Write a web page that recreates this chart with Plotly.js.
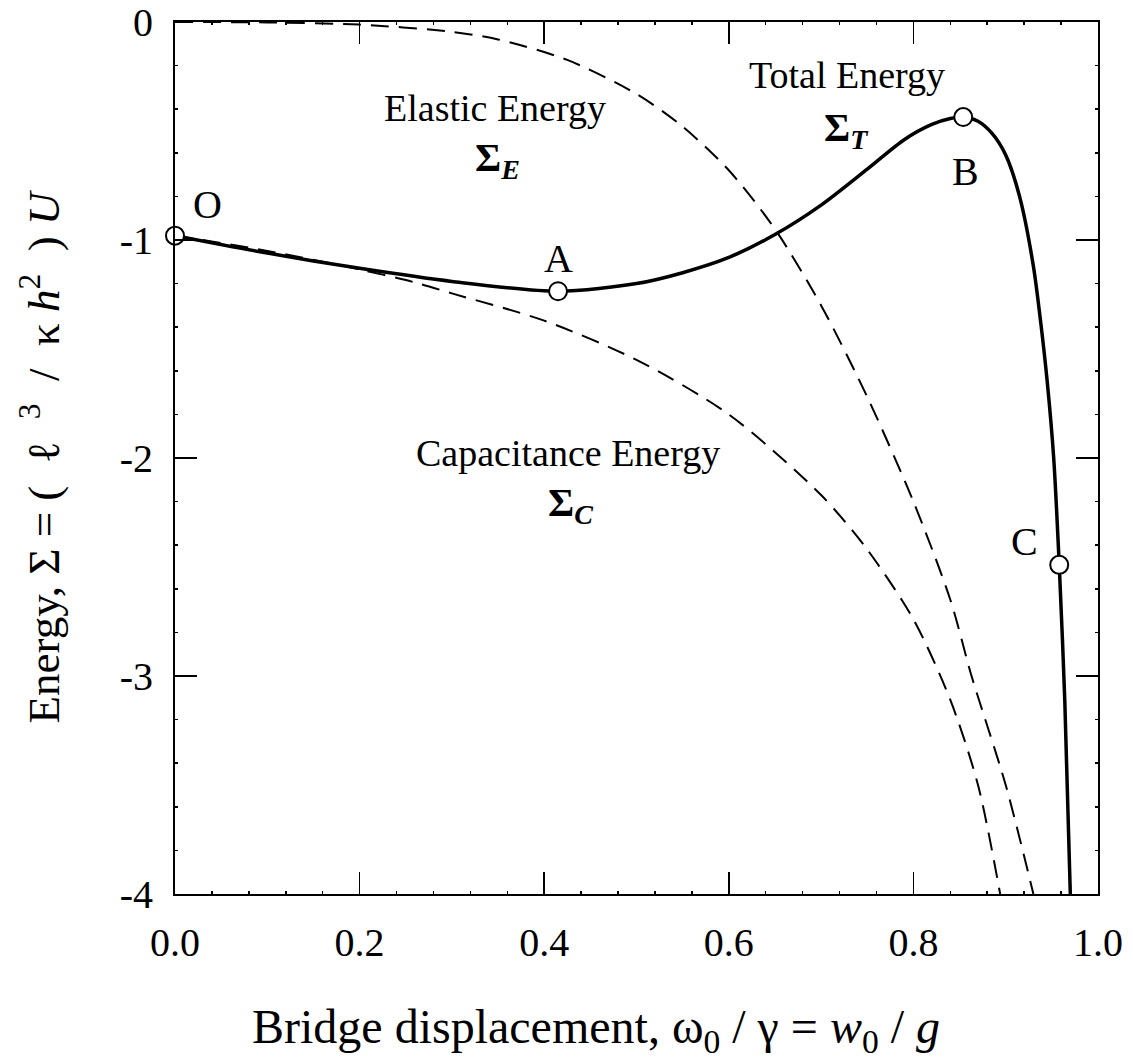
<!DOCTYPE html>
<html>
<head>
<meta charset="utf-8">
<script src="https://cdn.plot.ly/plotly-3.0.1.min.js"></script>
<style>
  html, body { margin: 0; padding: 0; background: #fff; }
  #chart { width: 1133px; height: 1063px; }
</style>
</head>
<body>
<div id="chart"></div>
<script>
// Elastic energy (dashed)
const elasticX = [0.0, 0.1, 0.2, 0.3, 0.35, 0.425, 0.5, 0.55, 0.6, 0.65, 0.7, 0.75, 0.8, 0.84, 0.863, 0.9, 0.93];
const elasticY = [0.0, -0.002, -0.012, -0.045, -0.08, -0.174, -0.33, -0.48, -0.68, -0.95, -1.3, -1.72, -2.2, -2.65, -3.0, -3.5, -4.0];

// Capacitance energy (dashed)
const capX = [0.0, 0.1, 0.2, 0.26, 0.3, 0.4, 0.5, 0.6, 0.7, 0.75, 0.8, 0.84, 0.87, 0.894];
const capY = [-0.98, -1.05, -1.135, -1.195, -1.245, -1.37, -1.55, -1.8, -2.17, -2.42, -2.74, -3.11, -3.5, -4.0];

// Total energy (solid)
const totalX = [0.0, 0.1, 0.2, 0.3, 0.415, 0.5, 0.55, 0.6, 0.65, 0.7, 0.75, 0.79, 0.82, 0.84, 0.854, 0.87, 0.885, 0.9, 0.915, 0.93, 0.938, 0.945, 0.952, 0.958, 0.964, 0.970];
const totalY = [-0.98, -1.06, -1.13, -1.19, -1.235, -1.2, -1.15, -1.08, -0.975, -0.84, -0.675, -0.54, -0.47, -0.443, -0.436, -0.455, -0.51, -0.61, -0.8, -1.12, -1.38, -1.65, -2.0, -2.49, -3.11, -4.0];

// Marked states on the total energy curve
const pointNames = ['O', 'A', 'B', 'C'];
const pointX = [0.0, 0.415, 0.854, 0.958];
const pointY = [-0.98, -1.235, -0.436, -2.49];

// Tick values and labels
const xTicks = [0.0, 0.2, 0.4, 0.6, 0.8, 1.0];
const xTickText = ['0.0', '0.2', '0.4', '0.6', '0.8', '1.0'];
const yTicks = [0, -1, -2, -3, -4];
const yTickText = ['0', '-1', '-2', '-3', '-4'];

const xTitle = 'Bridge displacement, ω<sub>0</sub> / γ = <i>w</i><sub>0</sub> / <i>g</i>';
const yTitle = 'Energy, Σ = (&nbsp; ℓ&nbsp;&nbsp;<sup>3</sup>&nbsp; /&nbsp; κ <i>h</i><sup>2</sup>&nbsp; ) <i>U</i>';

const serif = 'Liberation Serif, Times New Roman, serif';

const traces = [
  { x: elasticX, y: elasticY, mode: 'lines', line: { color: '#000', width: 2, dash: '18px,10px', shape: 'spline', smoothing: 0.8 }, hoverinfo: 'skip' },
  { x: capX, y: capY, mode: 'lines', line: { color: '#000', width: 2, dash: '18px,10px', shape: 'spline', smoothing: 0.8 }, hoverinfo: 'skip' },
  { x: totalX, y: totalY, mode: 'lines', line: { color: '#000', width: 3.5, shape: 'spline', smoothing: 0.8 }, hoverinfo: 'skip' },
  { x: pointX, y: pointY, mode: 'markers', marker: { size: 18, color: '#fff', line: { color: '#000', width: 2 } }, cliponaxis: false, hoverinfo: 'skip' }
];

// Point label offsets (pixels, right / down) relative to each marker
const labelShift = { O: [32, -31], A: [0, -33], B: [2, 54], C: [-35, -23] };

const annotations = pointNames.map((n, i) => ({
  x: pointX[i], y: pointY[i], xref: 'x', yref: 'y', text: n, showarrow: false,
  xshift: labelShift[n][0], yshift: -labelShift[n][1],
  font: { family: serif, size: 40, color: '#000' }
}));

const textLabels = [
  { x: 0.347, y: -0.395, text: 'Elastic Energy', size: 38 },
  { x: 0.349, y: -0.633, text: '<b>Σ</b><sub><b><i>E</i></b></sub>', size: 40 },
  { x: 0.728, y: -0.243, text: 'Total Energy', size: 38 },
  { x: 0.727, y: -0.495, text: '<b>Σ</b><sub><b><i>T</i></b></sub>', size: 40 },
  { x: 0.426, y: -1.975, text: 'Capacitance Energy', size: 38 },
  { x: 0.428, y: -2.216, text: '<b>Σ</b><sub><b><i>C</i></b></sub>', size: 40 }
];
textLabels.forEach(t => annotations.push({
  x: t.x, y: t.y, xref: 'x', yref: 'y', text: t.text, showarrow: false,
  font: { family: serif, size: t.size, color: '#000' }
}));

// Horizontal axis title, left-aligned below the tick labels
annotations.push({
  x: 0.081, y: 0, xref: 'x', yref: 'paper', xanchor: 'left', yanchor: 'top',
  yshift: -104, text: xTitle, showarrow: false,
  font: { family: serif, size: 48, color: '#000' }
});

const layout = {
  width: 1133, height: 1063,
  margin: { l: 175, r: 35, t: 22, b: 169 },
  paper_bgcolor: '#fff', plot_bgcolor: '#fff',
  showlegend: false,
  font: { family: serif, color: '#000' },
  xaxis: {
    range: [0, 1], tickmode: 'array', tickvals: xTicks, ticktext: xTickText,
    ticks: 'inside', ticklen: 22, tickwidth: 1.5, tickcolor: '#000',
    showline: true, linecolor: '#000', linewidth: 2, mirror: 'ticks',
    showgrid: false, zeroline: false,
    tickfont: { family: serif, size: 40 }, ticklabelstandoff: 12,
    minor: { dtick: 0.04, ticks: 'inside', ticklen: 3, tickcolor: '#000', showgrid: false }
  },
  yaxis: {
    range: [-4, 0], tickmode: 'array', tickvals: yTicks, ticktext: yTickText,
    ticks: 'inside', ticklen: 22, tickwidth: 1.5, tickcolor: '#000',
    showline: true, linecolor: '#000', linewidth: 2, mirror: 'ticks',
    showgrid: false, zeroline: false,
    tickfont: { family: serif, size: 40 }, ticklabelstandoff: 12,
    minor: { dtick: 0.2, ticks: 'inside', ticklen: 3, tickcolor: '#000', showgrid: false },
    title: { text: yTitle, font: { family: serif, size: 45 }, standoff: 46 }
  },
  annotations: annotations
};

Plotly.newPlot('chart', traces, layout, { staticPlot: true, displayModeBar: false });
</script>
</body>
</html>
